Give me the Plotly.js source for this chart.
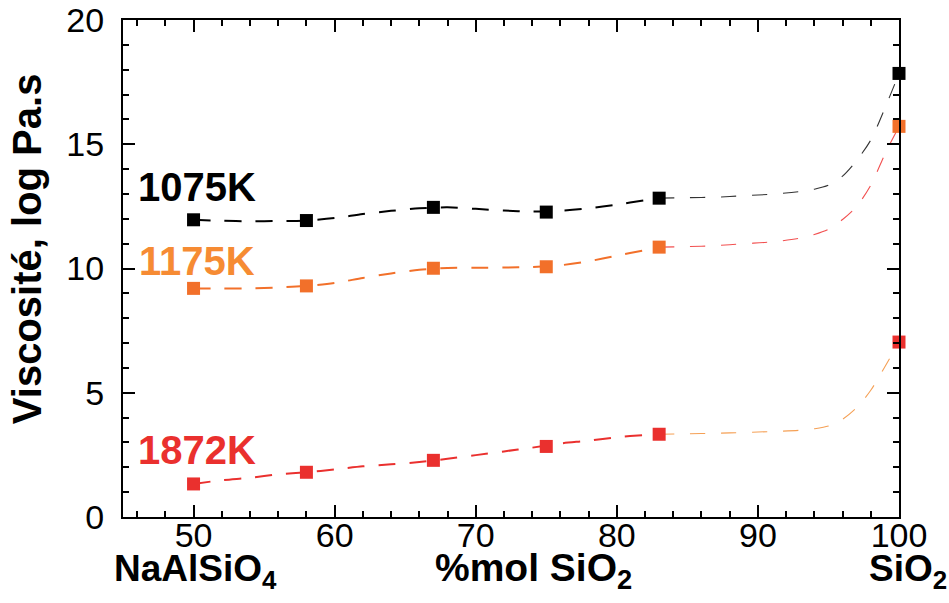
<!DOCTYPE html>
<html>
<head>
<meta charset="utf-8">
<script src="https://cdn.plot.ly/plotly-3.0.1.min.js"></script>
<style>html,body{margin:0;padding:0;background:#fff;}#chart{width:949px;height:603px;}</style>
</head>
<body>
<div id="chart"></div>
<script>
// Measured points (%mol SiO2 vs log viscosity)
const xPts = [50, 58, 67, 75, 83, 100];
const y1075 = [11.96, 11.93, 12.46, 12.27, 12.83, 17.85];
const y1175 = [9.20, 9.30, 10.01, 10.07, 10.86, 15.72];
const y1872 = [1.33, 1.80, 2.28, 2.84, 3.33, 7.04];

// Fitted curves (main part 50-83)
const xFitMain = [50, 52, 54, 56, 58, 60, 62, 64, 66, 68, 70, 72, 74, 76, 78, 80, 82, 83];
const fit1075Main = [11.96, 11.92, 11.90, 11.91, 11.93, 12.03, 12.19, 12.32, 12.42, 12.46, 12.40, 12.33, 12.29, 12.32, 12.42, 12.57, 12.75, 12.83];
const fit1175Main = [9.20, 9.20, 9.20, 9.24, 9.30, 9.42, 9.62, 9.80, 9.95, 10.02, 10.03, 10.04, 10.06, 10.13, 10.29, 10.52, 10.74, 10.86];
const fit1872Main = [1.33, 1.48, 1.58, 1.72, 1.80, 1.91, 2.04, 2.12, 2.21, 2.34, 2.49, 2.64, 2.79, 2.96, 3.07, 3.21, 3.30, 3.33];

// Fitted curves, tail part 83-100
const xFitTail = [83, 85, 87, 89, 91, 93, 94, 95, 96, 97, 98, 99, 100];
const fit1075Tail = [12.83, 12.85, 12.87, 12.93, 12.99, 13.10, 13.19, 13.35, 13.72, 14.35, 15.17, 16.45, 17.85];
const fit1175Tail = [10.86, 10.88, 10.92, 11.00, 11.07, 11.22, 11.37, 11.58, 11.97, 12.50, 13.35, 14.60, 15.72];
const fit1872Tail = [3.33, 3.35, 3.37, 3.40, 3.44, 3.49, 3.55, 3.66, 3.93, 4.40, 5.10, 6.05, 7.04];

const seriesLabels = ['1075K', '1175K', '1872K'];

const BLACK = '#000000', ORANGE = '#F2702A', RED = '#EA302E';
const ORANGE_TXT = '#F68B33';

function curve(x, y, color, width, dash) {
  return {x: x, y: y, type: 'scatter', mode: 'lines', showlegend: false, hoverinfo: 'skip',
    line: {color: color, width: width, dash: dash, shape: 'spline', smoothing: 0.8}};
}
function pts(y, color, name) {
  return {x: xPts, y: y, type: 'scatter', mode: 'markers', name: name, showlegend: false, cliponaxis: false,
    marker: {symbol: 'square', size: 13, color: color, line: {width: 0}}};
}

const data = [
  curve(xFitMain, fit1075Main, BLACK, 2, '17px,14px'),
  curve(xFitMain, fit1175Main, ORANGE, 2, '17px,14px'),
  curve(xFitMain, fit1872Main, RED, 2, '17px,14px'),
  curve(xFitTail, fit1075Tail, '#333333', 1.1, '15px,16px'),
  curve(xFitTail, fit1175Tail, '#F25050', 1.1, '15px,16px'),
  curve(xFitTail, fit1872Tail, '#F5A055', 1.1, '15px,16px'),
  pts(y1075, BLACK, seriesLabels[0]),
  pts(y1175, ORANGE, seriesLabels[1]),
  pts(y1872, RED, seriesLabels[2])
];

const tickFont = {family: 'Liberation Sans, Arial, sans-serif', size: 34, color: '#000'};
const boldFont = (sz, c) => ({family: 'Liberation Sans, Arial, sans-serif', size: sz, color: c, weight: 'bold'});

const layout = {
  width: 949, height: 603,
  margin: {l: 123, r: 50, t: 20, b: 86},
  paper_bgcolor: '#fff', plot_bgcolor: '#fff',
  showlegend: false,
  xaxis: {
    range: [45, 100], tick0: 50, dtick: 10,
    showline: true, linewidth: 2, linecolor: '#000', mirror: 'ticks',
    ticks: 'inside', ticklen: 12, tickwidth: 2, tickcolor: '#000',
    minor: {dtick: 2, tick0: 46, ticks: 'inside', ticklen: 6, tickwidth: 2, tickcolor: '#000'},
    showgrid: false, zeroline: false, tickfont: tickFont, ticklabelstandoff: -13
  },
  yaxis: {
    range: [0, 20], tick0: 0, dtick: 5,
    showline: true, linewidth: 2, linecolor: '#000', mirror: 'ticks',
    ticks: 'inside', ticklen: 12, tickwidth: 2, tickcolor: '#000',
    minor: {dtick: 1, ticks: 'inside', ticklen: 6, tickwidth: 2, tickcolor: '#000'},
    showgrid: false, zeroline: false, tickfont: tickFont, ticklabelstandoff: 10
  },
  annotations: [
    {text: seriesLabels[0], x: 50.25, y: 13.26, xref: 'x', yref: 'y', xanchor: 'center', yanchor: 'middle', showarrow: false, font: boldFont(40, BLACK)},
    {text: seriesLabels[1], x: 50.25, y: 10.30, xref: 'x', yref: 'y', xanchor: 'center', yanchor: 'middle', showarrow: false, font: boldFont(40, ORANGE_TXT)},
    {text: seriesLabels[2], x: 50.25, y: 2.70, xref: 'x', yref: 'y', xanchor: 'center', yanchor: 'middle', showarrow: false, font: boldFont(40, RED)},
    {text: 'Viscosité, log Pa.s', x: -0.1237, y: 0.539, xref: 'paper', yref: 'paper', xanchor: 'center', yanchor: 'middle', textangle: -90, showarrow: false, font: boldFont(40, '#000')},
    {text: 'NaAlSiO<sub>4</sub>', x: 0.0928, y: -0.108, xref: 'paper', yref: 'paper', xanchor: 'center', yanchor: 'middle', showarrow: false, font: boldFont(37, '#000')},
    {text: '%mol SiO<sub>2</sub>', x: 0.5296, y: -0.108, xref: 'paper', yref: 'paper', xanchor: 'center', yanchor: 'middle', showarrow: false, font: boldFont(39, '#000')},
    {text: 'SiO<sub>2</sub>', x: 1.0122, y: -0.108, xref: 'paper', yref: 'paper', xanchor: 'center', yanchor: 'middle', showarrow: false, font: boldFont(37, '#000')}
  ]
};

Plotly.newPlot('chart', data, layout, {staticPlot: true, displayModeBar: false});
</script>
</body>
</html>
